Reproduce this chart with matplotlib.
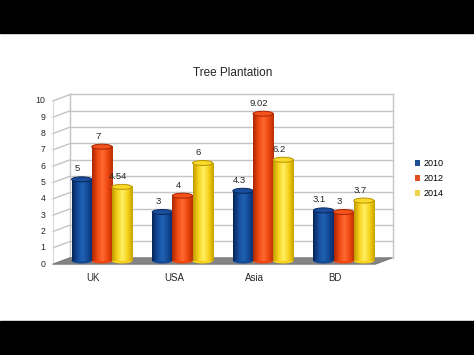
import numpy as np
import matplotlib
matplotlib.use("Agg")
import matplotlib.pyplot as plt
from matplotlib.patches import Ellipse, Polygon, Rectangle, Patch
from matplotlib.transforms import offset_copy
from matplotlib.colors import LinearSegmentedColormap

plt.rcParams['font.family'] = ['Liberation Sans', 'DejaVu Sans']

# ---- data ----
categories = ["UK", "USA", "Asia", "BD"]
series_names = ["2010", "2012", "2014"]
values_2010 = [5, 3, 4.3, 3.1]
values_2012 = [7, 4, 9.02, 3]
values_2014 = [4.54, 6, 6.2, 3.7]
value_labels_2010 = ["5", "3", "4.3", "3.1"]
value_labels_2012 = ["7", "4", "9.02", "3"]
value_labels_2014 = ["4.54", "6", "6.2", "3.7"]
y_ticks = list(range(0, 11))
title = "Tree Plantation"

series_values = [values_2010, values_2012, values_2014]
series_labels = [value_labels_2010, value_labels_2012, value_labels_2014]

# ---- styles ----
shade = {
    "2010": ["#072556", "#124a98", "#2262b4", "#124a98", "#0a2c66"],
    "2012": ["#a82800", "#ef4712", "#ff6a30", "#ef4712", "#b83000"],
    "2014": ["#c09a00", "#f6d21a", "#fff066", "#f6d21a", "#c8a200"],
}
top_face = {"2010": "#1a4e9c", "2012": "#f4521c", "2014": "#f8d828"}
top_rim = {"2010": "#08285c", "2012": "#a82400", "2014": "#b89400"}
legend_col = {"2010": "#1f4e96", "2012": "#e0501e", "2014": "#f0d24c"}
text_c = "#262626"

W, H, DPI = 474, 355, 100
fig = plt.figure(figsize=(W / DPI, H / DPI), dpi=DPI)
fig.patch.set_facecolor("white")

# letterbox bars
fig.add_artist(Rectangle((0, 1 - 33 / H), 1, 33 / H, transform=fig.transFigure, color="black", zorder=10))
fig.add_artist(Rectangle((0, 0), 1, 34 / H, transform=fig.transFigure, color="black", zorder=10))

ax = fig.add_axes([61.5 / W, 94 / H, 322.5 / W, 163.3 / H])
ax.set_xlim(-0.5, 3.5)
ax.set_ylim(0, 10)
ax.axis("off")

# depth offset (half depth) in data units
px_x = 322.5 / 4.0
px_y = 163.3 / 10.0
dx = 8.6 / px_x
dy = 3.2 / px_y

x0, x1 = -0.5, 3.5
grid_c = "#c4c4c4"

# floor
floor = Polygon([(x0 + dx, dy), (x1 + dx, dy), (x1 - dx, -dy), (x0 - dx, -dy)],
                closed=True, facecolor="#848484", edgecolor="#707070", lw=0.6, zorder=1, clip_on=False)
ax.add_patch(floor)

# back wall grid and side wall
for v in y_ticks:
    if v > 0:
        ax.plot([x0 + dx, x1 + dx], [v + dy, v + dy], color=grid_c, lw=1.0, zorder=0.5, clip_on=False)
    ax.plot([x0 - dx, x0 + dx], [v - dy, v + dy], color=grid_c, lw=1.0, zorder=0.5, clip_on=False)
ax.plot([x0 + dx, x0 + dx], [dy, 10 + dy], color=grid_c, lw=1.0, zorder=0.5, clip_on=False)
ax.plot([x1 + dx, x1 + dx], [dy, 10 + dy], color=grid_c, lw=1.0, zorder=0.5, clip_on=False)
ax.plot([x0 - dx, x0 - dx], [-dy, 10 - dy], color="#d8d8d8", lw=0.8, zorder=0.5, clip_on=False)

# y tick labels at front plane
tick_tr = offset_copy(ax.transData, fig=fig, x=-7.5, y=0, units="dots")
for v in y_ticks:
    ax.text(x0 - dx, v - dy, str(v), transform=tick_tr, ha="right", va="center",
            fontsize=6.3, color=text_c, clip_on=False)

# category labels
cat_tr = offset_copy(ax.transData, fig=fig, x=-8.6, y=-17, units="dots")
xs = np.arange(len(categories))
for i, c in enumerate(categories):
    ax.text(xs[i], 0, c, transform=cat_tr, ha="center", va="center",
            fontsize=7.0, color=text_c, clip_on=False)

# bars
bw = 0.25
offsets = [-bw, 0, bw]
lab_tr = offset_copy(ax.transData, fig=fig, x=-4, y=10.5, units="dots")
ell_h = 5.0 / px_y
z = 2
for si, name in enumerate(series_names):
    cmap = LinearSegmentedColormap.from_list(name, shade[name])
    grad = cmap(np.linspace(0, 1, 64))[None, :, :]
    bars = ax.bar(xs + offsets[si], series_values[si], width=bw, color=top_face[name],
                  zorder=z, clip_on=False)
    for bi, b in enumerate(bars):
        bx, bwid, bh = b.get_x(), b.get_width(), b.get_height()
        cx = bx + bwid / 2
        # rounded bottom
        ax.add_patch(Ellipse((cx, 0), bwid, ell_h, facecolor=shade[name][1], edgecolor="none",
                             zorder=z - 0.1, clip_on=False))
        im = ax.imshow(grad, extent=(bx, bx + bwid, 0, bh), aspect="auto", zorder=z + 0.1,
                       interpolation="bilinear")
        im.set_clip_on(False)
        ax.add_patch(Ellipse((cx, bh), bwid, ell_h, facecolor=top_face[name], edgecolor=top_rim[name],
                             lw=0.7, zorder=z + 0.2, clip_on=False))
        ax.text(cx, bh, series_labels[si][bi], transform=lab_tr, ha="center", va="center",
                fontsize=6.8, color=text_c, zorder=20, clip_on=False)
        z += 1

ax.set_xlim(-0.5, 3.5)
ax.set_ylim(0, 10)

# title
fig.text(233 / W, 1 - 73 / H, title, ha="center", va="center", fontsize=8.5, color=text_c)

# legend
handles = [Patch(facecolor=legend_col[n], edgecolor="none") for n in series_names]
fig.legend(handles, series_names, loc="upper left", bbox_to_anchor=(414.5 / W, 1 - 159.5 / H),
           frameon=False, fontsize=6.5, handlelength=0.65, handleheight=0.65,
           handletextpad=0.35, labelspacing=0.62, borderpad=0, borderaxespad=0)

fig.savefig("out.png", dpi=DPI)
